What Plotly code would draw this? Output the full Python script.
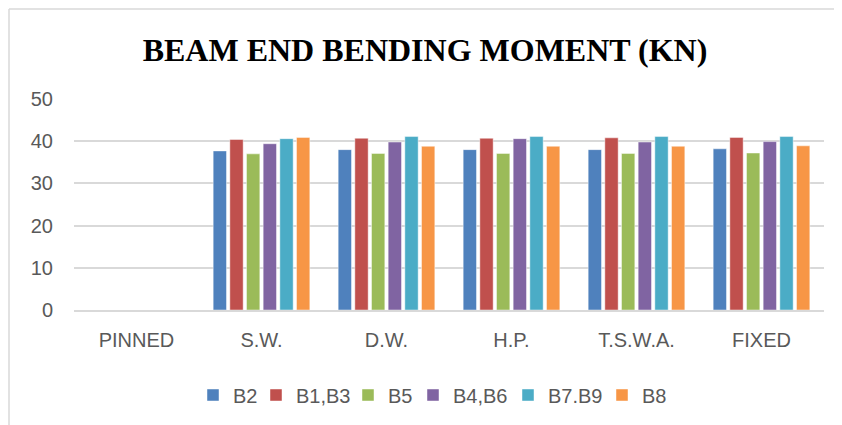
import plotly.graph_objects as go

categories = ["PINNED", "S.W.", "D.W.", "H.P.", "T.S.W.A.", "FIXED"]
series_names = ["B2", "B1,B3", "B5", "B4,B6", "B7.B9", "B8"]
b2 = [None, 37.7, 38.0, 38.0, 38.0, 38.2]
b1_b3 = [None, 40.4, 40.7, 40.7, 40.8, 40.9]
b5 = [None, 37.0, 37.1, 37.1, 37.1, 37.2]
b4_b6 = [None, 39.4, 39.8, 40.6, 39.8, 39.9]
b7_b9 = [None, 40.6, 41.1, 41.1, 41.1, 41.1]
b8 = [None, 40.9, 38.8, 38.8, 38.8, 38.9]
y_ticks = [0, 10, 20, 30, 40, 50]

colors = ["#4F81BD", "#C0504D", "#9BBB59", "#8064A2", "#4BACC6", "#F79646"]
values = [b2, b1_b3, b5, b4_b6, b7_b9, b8]

# page has an 8px body margin: work in reference-pixel coords, then shift
OFF = 8
W, H = 842 - OFF, 425 - OFF
L, R, T, B = 74 - OFF, 18, 99 - OFF, 115
pw = W - L - R
ph = H - T - B


def px_x(x):  # reference pixel -> paper x
    return (x - OFF - L) / pw


def px_y(y):  # reference pixel -> paper y
    return (H - B - (y - OFF)) / ph


legend_left = [210, 273, 365, 430, 525, 619]
legend_keys = ["legend", "legend2", "legend3", "legend4", "legend5", "legend6"]

fig = go.Figure()
for name, vals, c, lk in zip(series_names, values, colors, legend_keys):
    fig.add_trace(go.Bar(
        x=categories, y=vals, name=name, legend=lk, showlegend=True,
        marker=dict(color=c, line=dict(color="rgba(255,255,255,0.45)", width=1)),
    ))

layout = dict(
    width=W, height=H, showlegend=True,
    margin=dict(l=L, r=R, t=T, b=B, autoexpand=False),
    paper_bgcolor="white", plot_bgcolor="white",
    barmode="group", bargap=0.2, bargroupgap=0.2,
    title=dict(
        text="<b>BEAM END BENDING MOMENT (KN)</b>",
        font=dict(family="Liberation Serif", size=32, color="black"),
        x=px_x(425), xref="paper", xanchor="center",
        y=1 - (50 - OFF) / H, yref="container", yanchor="middle",
    ),
    font=dict(family="Liberation Sans", size=20, color="#595959"),
    xaxis=dict(
        showgrid=False, showline=True, linecolor="#D9D9D9", linewidth=1.5,
        ticks="", tickfont=dict(size=20, color="#595959"), ticklabelstandoff=11,
    ),
    yaxis=dict(
        range=[0, 50], tickvals=y_ticks, showgrid=True, gridcolor="#D9D9D9",
        gridwidth=1.5, zeroline=False, showline=False, ticks="",
        tickfont=dict(size=20, color="#595959"), ticklabelstandoff=20,
    ),
    shapes=[
        dict(type="line", xref="paper", yref="paper",
             x0=px_x(9), x1=px_x(9), y0=px_y(9), y1=px_y(440),
             line=dict(color="#D9D9D9", width=1.5)),
        dict(type="line", xref="paper", yref="paper",
             x0=px_x(9), x1=px_x(860), y0=px_y(9), y1=px_y(9),
             line=dict(color="#D9D9D9", width=1.5)),
    ],
)
for lk, sx in zip(legend_keys, legend_left):
    layout[lk] = dict(
        orientation="h", x=px_x(sx - 17), xanchor="left",
        y=px_y(395), yanchor="middle",
        font=dict(size=20, color="#595959"), itemwidth=30,
        bgcolor="rgba(0,0,0,0)", visible=True,
    )
fig.update_layout(**layout)

fig.write_html("out.html")
